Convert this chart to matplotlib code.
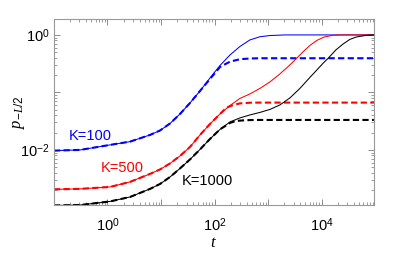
import matplotlib
matplotlib.use('Agg')
import matplotlib.pyplot as plt
import matplotlib.ticker as mticker
import numpy as np

plt.rcParams['font.family'] = ['Liberation Sans', 'DejaVu Sans']
plt.rcParams['mathtext.fontset'] = 'custom'
plt.rcParams['mathtext.rm'] = 'Liberation Sans'
plt.rcParams['mathtext.it'] = 'Liberation Serif:italic'

# K = 100
t_blue = [0.1, 0.31, 1.12, 2.65, 6.26, 9.62, 14.8, 22.7, 34.9, 53.6, 82.4,
          127, 195, 299, 459, 706, 1085, 2066, 95000]
p_blue = [0.00972, 0.0100, 0.01222, 0.01394, 0.01823, 0.0218, 0.0289, 0.0423,
          0.0657, 0.1062, 0.1786, 0.295, 0.449, 0.631, 0.819, 0.930, 0.976, 1.0, 1.0]
t_blue_d = [0.1, 0.31, 1.12, 2.65, 6.26, 9.62, 14.8, 22.7, 34.9, 53.6, 82.4,
            127, 195, 299, 459, 706, 95000]
p_blue_d = [0.00972, 0.0100, 0.01222, 0.01394, 0.01823, 0.0218, 0.0289, 0.0423,
            0.0657, 0.1062, 0.1717, 0.278, 0.343, 0.378, 0.389, 0.393, 0.393]

# K = 500
t_red = [0.1, 0.31, 1.12, 2.65, 6.26, 9.62, 14.8, 22.7, 34.9, 53.6, 82.4, 127,
         195, 299, 459, 706, 1085, 1667, 2564, 3418, 4480, 6050, 8170, 11040,
         15560, 21900, 95000]
p_red = [0.00206, 0.00210, 0.00227, 0.00278, 0.00383, 0.00458, 0.00582, 0.00787,
         0.01128, 0.01823, 0.0283, 0.0423, 0.0594, 0.0787, 0.0942, 0.1174, 0.1524,
         0.210, 0.301, 0.393, 0.506, 0.657, 0.802, 0.916, 0.980, 1.0, 1.0]
t_red_d = [0.1, 0.31, 1.12, 2.65, 6.26, 9.62, 14.8, 22.7, 34.9, 53.6, 82.4, 127,
           164, 212, 299, 459, 706, 95000]
p_red_d = [0.00206, 0.00210, 0.00227, 0.00278, 0.00383, 0.00458, 0.00582, 0.00787,
           0.01128, 0.01823, 0.0283, 0.0423, 0.0537, 0.0594, 0.0644, 0.0662,
           0.0665, 0.0665]

# K = 1000
t_blk = [0.1, 0.31, 1.12, 2.65, 6.26, 9.62, 14.8, 22.7, 34.9, 53.6, 82.4, 127,
         195, 299, 459, 706, 1085, 1667, 2564, 3937, 6050, 8170, 10570, 13280,
         18480, 25300, 33700, 45000, 69200, 95000]
p_blk = [0.00108, 0.00110, 0.00127, 0.00152, 0.00210, 0.00256, 0.00339, 0.00477,
         0.00684, 0.0102, 0.01553, 0.0228, 0.0307, 0.0360, 0.0406, 0.0449, 0.0506,
         0.0606, 0.0802, 0.1174, 0.1824, 0.246, 0.319, 0.393, 0.548, 0.697, 0.835,
         0.923, 0.984, 1.0]
t_blk_d = [0.1, 0.31, 1.12, 2.65, 6.26, 9.62, 14.8, 22.7, 34.9, 53.6, 82.4, 127,
           195, 251, 371, 569, 95000]
p_blk_d = [0.00108, 0.00110, 0.00127, 0.00152, 0.00210, 0.00256, 0.00339, 0.00477,
           0.00684, 0.0102, 0.01553, 0.0228, 0.0295, 0.0319, 0.0328, 0.0332, 0.0332]

x_major = [1e-1, 1e0, 1e1, 1e2, 1e3, 1e4]
y_major = [1e-2, 1e-1, 1e0]

fig = plt.figure(figsize=(4.15, 2.57), dpi=100)
ax = fig.add_axes([0.130, 0.2023, 0.771, 0.7226])

for t, p, td, pd_, c in [(t_blue, p_blue, t_blue_d, p_blue_d, 'blue'),
                         (t_red, p_red, t_red_d, p_red_d, 'red'),
                         (t_blk, p_blk, t_blk_d, p_blk_d, 'black')]:
    ax.plot(t, p, color=c, lw=0.75)
    ax.plot(td, pd_, color=c, lw=1.5, ls=(0, (3, 1.6)))

ax.set_xscale('log')
ax.set_yscale('log')
ax.set_xlim(0.1, 9.5e4)
ax.set_ylim(1.1e-3, 1.87)


def even_pow(v, pos):
    e = int(round(np.log10(v)))
    return r'$10^{%d}$' % e if e % 2 == 0 else ''


for axis, ticks in ((ax.xaxis, x_major), (ax.yaxis, y_major)):
    axis.set_major_locator(mticker.FixedLocator(ticks))
    axis.set_minor_locator(mticker.LogLocator(base=10, subs=np.arange(2, 10), numticks=20))
    axis.set_major_formatter(mticker.FuncFormatter(even_pow))
    axis.set_minor_formatter(mticker.NullFormatter())

ax.tick_params(which='both', direction='in', top=True, right=True,
               color='0.55', labelsize=10.5, labelcolor='black')
ax.tick_params(which='major', length=4, width=0.7)
ax.tick_params(which='minor', length=2, width=0.6)
ax.tick_params(axis='x', pad=8)
ax.tick_params(axis='y', pad=3)
for s in ax.spines.values():
    s.set_color('0.6')
    s.set_linewidth(0.8)

ax.set_xlabel(r'$t$', fontsize=12, labelpad=1)
ax.set_ylabel(r'$p_{-L/2}$', fontsize=12)
ax.yaxis.set_label_coords(-0.085, 0.5)

ax.text(0.475, 0.0175, 'K=100', color='blue', fontsize=10.5, ha='center', va='center')
ax.text(1.92, 0.00492, 'K=500', color='red', fontsize=10.5, ha='center', va='center')
ax.text(74, 0.00289, 'K=1000', color='black', fontsize=10.5, ha='center', va='center')

fig.savefig('out.png', dpi=100)
